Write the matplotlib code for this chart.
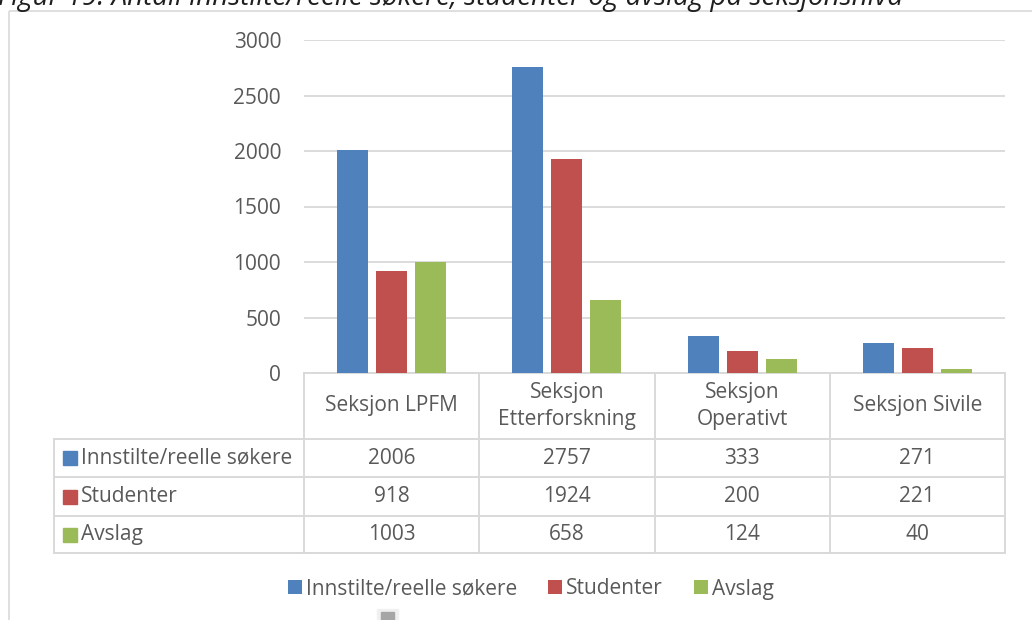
import numpy as np
import matplotlib.pyplot as plt
from matplotlib.patches import Rectangle

sections = ["Seksjon LPFM", "Seksjon\nEtterforskning", "Seksjon\nOperativt", "Seksjon Sivile"]
series_names = ["Innstilte/reelle søkere", "Studenter", "Avslag"]
sokere = [2006, 2757, 333, 271]
studenter = [918, 1924, 200, 221]
avslag = [1003, 658, 124, 40]
colors = ["#4F81BD", "#C0504D", "#9BBB59"]
yticks = [0, 500, 1000, 1500, 2000, 2500, 3000]

W, H = 1032, 620
plt.rcParams['font.family'] = ['Open Sans', 'DejaVu Sans']
TXT = "#595959"
LINE = "#d9d9d9"
FS = 15

fig = plt.figure(figsize=(W / 100, H / 100), dpi=100)

# overlay in pixel coordinates for frame, table and title
ov = fig.add_axes([0, 0, 1, 1])
ov.set_xlim(0, W)
ov.set_ylim(H, 0)
ov.axis("off")

# plot area
x0, x1 = 304, 1005
y_top, y_zero = 40, 373
ax = fig.add_axes([x0 / W, (H - y_zero) / H, (x1 - x0) / W, (y_zero - y_top) / H])
ax.set_xlim(-0.5, len(sections) - 0.5)
ax.set_ylim(0, 3000)
ax.set_yticks(yticks)
ax.set_xticks([])
ax.tick_params(axis="y", length=0, pad=16.5, labelsize=FS, labelcolor=TXT)
ax.grid(axis="y", color=LINE, lw=1.3)
ax.set_axisbelow(True)
for s in ax.spines.values():
    s.set_visible(False)
ax.patch.set_alpha(0)

data = [sokere, studenter, avslag]
x = np.arange(len(sections))
bw = 0.177
offs = [-0.222, 0, 0.222]
handles = []
for vals, off, c, name in zip(data, offs, colors, series_names):
    b = ax.bar(x + off, vals, bw, color=c, label=name, zorder=3)
    handles.append(b)

# chart frame
ov.add_patch(Rectangle((9, 11), 1100, 700, fill=False, ec=LINE, lw=1.2, clip_on=False))

# title, partly cut off at top edge
ov.text(-2, 5, "Figur 19: Antall innstilte/reelle søkere, studenter og avslag på seksjonsnivå",
        fontsize=20, style="italic", color="#1f1f1f", va="baseline", ha="left")

# data table
cw = (x1 - x0) / len(sections)
edges = [x0 + cw * k for k in range(len(sections) + 1)]
rows = [y_zero, 439, 477, 516, 553]
lw = 1.4
ov.plot([x0, x1], [rows[0], rows[0]], color=LINE, lw=lw)
for r in rows[1:]:
    ov.plot([54, x1], [r, r], color=LINE, lw=lw)
ov.plot([54, 54], [rows[1], rows[-1]], color=LINE, lw=lw)
for e in edges:
    ov.plot([e, e], [rows[0], rows[-1]], color=LINE, lw=lw)

for i, sec in enumerate(sections):
    ov.text((edges[i] + edges[i + 1]) / 2, (rows[0] + rows[1]) / 2, sec,
            ha="center", va="center", fontsize=FS, color=TXT, linespacing=1.4)

for j, (vals, c, name) in enumerate(zip(data, colors, series_names)):
    yc = (rows[j + 1] + rows[j + 2]) / 2
    ov.add_patch(Rectangle((63, yc - 7), 14, 14, color=c))
    ov.text(81, yc, name, ha="left", va="center", fontsize=FS, color=TXT)
    for i, v in enumerate(vals):
        ov.text((edges[i] + edges[i + 1]) / 2, yc, str(v),
                ha="center", va="center", fontsize=FS, color=TXT)

# legend
fig.legend(handles, series_names, loc="center", bbox_to_anchor=(531 / W, 1 - 589 / H),
           ncol=3, frameon=False, fontsize=FS, labelcolor=TXT,
           handlelength=0.65, handleheight=0.65, handletextpad=0.2, columnspacing=1.5)

# small resize handle at the bottom
ov.add_patch(Rectangle((377, 609), 21, 15, color="#f0f0f0", clip_on=False))
ov.add_patch(Rectangle((381, 612), 13, 12, color="#a6a6a6", clip_on=False))

fig.savefig("out.png", dpi=100)
